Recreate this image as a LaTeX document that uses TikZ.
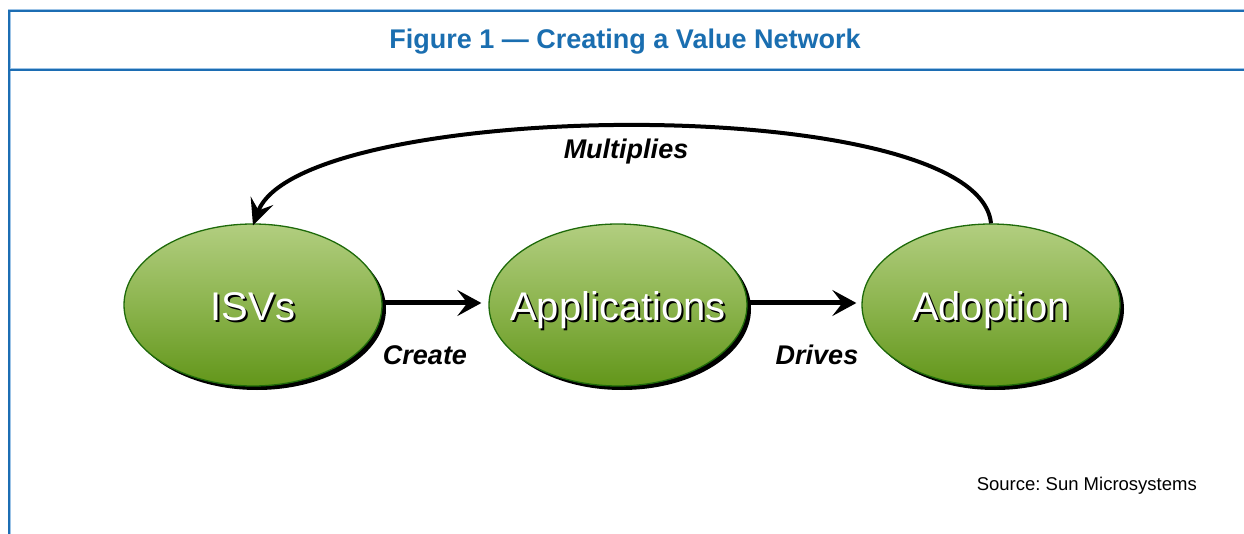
\documentclass[tikz,border=0pt]{standalone}
\usepackage{fontspec}
\setmainfont{Liberation Sans}
\frenchspacing
\usetikzlibrary{arrows.meta,shadows,shapes.geometric}
\definecolor{frameblue}{HTML}{1C6DB3}
\definecolor{framelight}{HTML}{9CC3E6}
\definecolor{titleblue}{HTML}{1A6EB0}
\definecolor{elltop}{HTML}{B2CE80}
\definecolor{ellmid}{HTML}{8CB44E}
\definecolor{ellbot}{HTML}{62961A}
\definecolor{ellline}{HTML}{1E6A0A}
\newcommand\shadowtext[1]{\raisebox{-16pt}[0pt][0pt]{\makebox[0pt][c]{\rlap{\hspace{2pt}\raisebox{-2pt}{\color{black}#1}}{\color{white}#1}}}}
\tikzset{
  oval/.style={ellipse, minimum width=258pt, minimum height=162pt, inner sep=0pt,
    draw=ellline, line width=1.3pt, top color=elltop, bottom color=ellbot, middle color=ellmid,
    drop shadow={shadow xshift=4pt, shadow yshift=-4pt, fill=black, opacity=1},
    font=\fontsize{40}{40}\selectfont},
  conn/.style={line width=5pt, -{Stealth[length=24pt,width=26pt,inset=10pt]}},
  curveconn/.style={line width=4pt, -{Stealth[length=26pt,width=24pt,inset=10pt]}},
  lab/.style={font=\fontsize{27}{27}\selectfont\bfseries\itshape, inner sep=0pt},
  frameline/.style={line width=3pt, draw=framelight},
  framecore/.style={line width=1.6pt, draw=frameblue},
}
\begin{document}
\begin{tikzpicture}[x=1pt,y=-1pt]
\useasboundingbox (0,0) rectangle (1244,534);
% frame
\coordinate (tl) at (9,11);
\coordinate (tr) at (1244,11);
\coordinate (bl) at (9,534);
\coordinate (dl) at (9,70);
\coordinate (dr) at (1244,70);
\foreach \s in {frameline,framecore}{
  \draw[\s] (tr) -- (tl) -- (bl);
  \draw[\s] (dl) -- (dr);
}
\node[font=\fontsize{27}{27}\selectfont\bfseries, text=titleblue, inner sep=0pt] (title) at (625,42) {Figure 1 — Creating a Value Network};
% ovals
\node[oval] (isv) at (253,305) {\shadowtext{ISVs}};
\node[oval] (app) at (618,305) {\shadowtext{Applications}};
\node[oval] (ado) at (991,305) {\shadowtext{Adoption}};
% connectors
\draw[conn, shorten >=7pt] ([yshift=2pt]isv.east) -- ([yshift=2pt]app.west);
\draw[conn, shorten >=5pt] ([yshift=2pt]app.east) -- ([yshift=2pt]ado.west);
\draw[curveconn] (ado.north) .. controls (978,90) and (300,98) .. ([yshift=-2pt]isv.north);
% labels
\node[lab] (create) at (425,355) {Create};
\node[lab] (drives) at (817,355) {Drives};
\node[lab] (mult) at (626,152) {Multiplies};
\node[font=\fontsize{18.5}{18.5}\selectfont, anchor=east, inner sep=0pt] (src) at (1197,486) {Source: Sun Microsystems};
\end{tikzpicture}
\end{document}
